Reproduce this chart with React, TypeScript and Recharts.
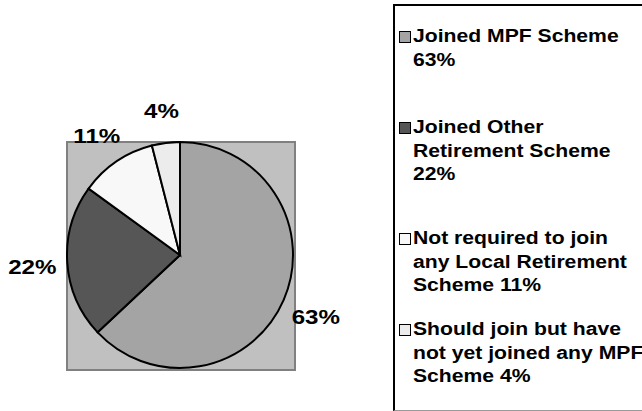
import React from 'react';
import { PieChart, Pie, Cell, Legend } from 'recharts';

const categories = [
  'Joined MPF Scheme',
  'Joined Other Retirement Scheme',
  'Not required to join any Local Retirement Scheme',
  'Should join but have not yet joined any MPF Scheme',
];
const shares = [63, 22, 11, 4];
const legendLines = [
  ['Joined MPF Scheme', '63%'],
  ['Joined Other', 'Retirement Scheme', '22%'],
  ['Not required to join', 'any Local Retirement', 'Scheme 11%'],
  ['Should join but have', 'not yet joined any MPF', 'Scheme 4%'],
];
const COLORS = ['#a4a4a4', '#565656', '#f8f8f8', '#ececec'];

const FONT = "'Liberation Sans', Arial, sans-serif";
const CX = 180;
const CY = 255;
const R = 113;
const ITEM_TOPS = [21, 112, 223, 314];
const LINE_H = 23.5;

const data = categories.map((name, i) => ({ name, value: shares[i] }));

const RADIAN = Math.PI / 180;

const renderLabel = (props: any) => {
  const { cx, cy, midAngle, outerRadius, value } = props;
  const r = outerRadius + 35;
  const x = cx + r * Math.cos(-midAngle * RADIAN);
  const y = cy + r * Math.sin(-midAngle * RADIAN) + 3;
  return (
    <text
      transform={`translate(${x},${y}) scale(1.15,1)`}
      x={0}
      y={0}
      textAnchor="middle"
      dominantBaseline="central"
      fontFamily={FONT}
      fontWeight="bold"
      fontSize={21}
      fill="#000"
    >
      {`${value}%`}
    </text>
  );
};

const LegendBox = () => (
  <div style={{ position: 'relative', width: 247, height: 406, fontFamily: FONT }}>
    {legendLines.map((lines, i) => (
      <div key={i} style={{ position: 'absolute', left: 0, top: ITEM_TOPS[i] }}>
        <div
          style={{
            position: 'absolute',
            left: 6,
            top: (LINE_H - 12) / 2,
            width: 10,
            height: 10,
            background: COLORS[i],
            border: '1px solid #000',
          }}
        />
        {lines.map((ln, j) => (
          <div
            key={j}
            style={{
              position: 'absolute',
              left: 20,
              top: j * LINE_H,
              height: LINE_H,
              lineHeight: `${LINE_H}px`,
              whiteSpace: 'nowrap',
              fontSize: 18,
              fontWeight: 'bold',
              color: '#000',
              transform: 'scaleX(1.175)',
              transformOrigin: 'left center',
            }}
          >
            {ln}
          </div>
        ))}
      </div>
    ))}
  </div>
);

export default function App() {
  return (
    <div style={{ position: 'absolute', left: 0, top: 0, width: 642, height: 411, background: '#fff', overflow: 'hidden' }}>
      <style>{'html,body{margin:0;overflow:hidden;}'}</style>
      <div
        style={{
          position: 'absolute',
          left: CX - R - 1,
          top: CY - R - 1,
          width: 2 * R,
          height: 2 * R,
          background: '#c0c0c0',
          border: '2px solid #808080',
        }}
      />
      <div
        style={{
          position: 'absolute',
          left: 393,
          top: 4,
          width: 247,
          height: 404,
          borderLeft: '2px solid #000',
          borderTop: '2px solid #000',
          borderBottom: '1px solid #999',
        }}
      />
      <div style={{ position: 'absolute', left: 0, top: 0 }}>
        <PieChart width={642} height={411} margin={{ top: 0, right: 0, bottom: 0, left: 0 }}>
          <Pie
            data={data}
            dataKey="value"
            nameKey="name"
            cx={CX}
            cy={CY}
            outerRadius={R}
            startAngle={90}
            endAngle={-270}
            stroke="#000"
            strokeWidth={2}
            label={renderLabel}
            labelLine={false}
            isAnimationActive={false}
          >
            {data.map((d, i) => (
              <Cell key={d.name} fill={COLORS[i]} />
            ))}
          </Pie>
          <Legend
            content={() => <LegendBox />}
            wrapperStyle={{ position: 'absolute', left: 393, top: 4, width: 247, height: 406 }}
          />
        </PieChart>
      </div>
    </div>
  );
}
